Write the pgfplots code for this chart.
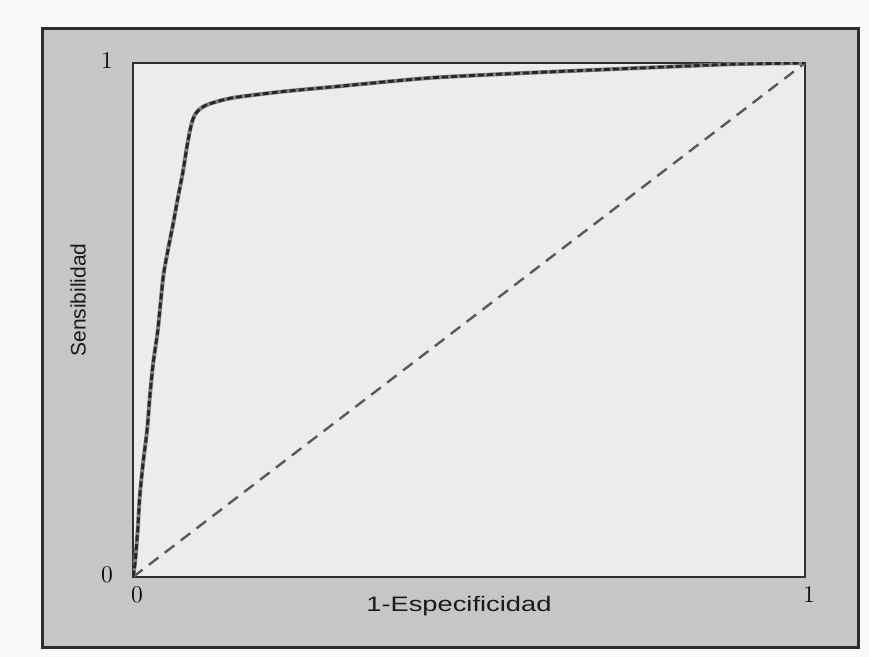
\documentclass[border=0pt]{standalone}
\usepackage{fontspec}
\setmainfont{Liberation Sans}
\newfontfamily\labfont[FakeStretch=1.3]{Liberation Sans}
\newfontfamily\tickfont{Liberation Serif}
\usepackage{pgfplots}
\pgfplotsset{compat=1.18}
\definecolor{outerbg}{HTML}{FAFAFA}
\definecolor{framebg}{HTML}{C6C6C6}
\definecolor{plotbg}{HTML}{ECECEC}
\definecolor{edge}{HTML}{2E2E2E}
\pgfplotstableread{
x y
0 0
0.003 0.027
0.007 0.091
0.010 0.156
0.015 0.222
0.021 0.286
0.025 0.350
0.030 0.416
0.037 0.481
0.045 0.584
0.052 0.636
0.060 0.689
0.067 0.739
0.074 0.786
0.080 0.835
0.085 0.870
0.089 0.890
0.093 0.901
0.099 0.910
0.109 0.918
0.125 0.925
0.152 0.933
0.220 0.944
0.293 0.953
0.442 0.971
0.591 0.981
0.714 0.988
0.839 0.995
0.900 0.998
1 1
}\roc
\begin{document}
\begin{tikzpicture}
\fill[outerbg] (-66.5pt,-40pt) rectangle (368pt,288.5pt);
\fill[framebg] (-45pt,-35.5pt) rectangle (362.5pt,274pt);
\draw[edge, line width=1.5pt] (-45pt,-35.5pt) rectangle (362.5pt,274pt);
\begin{axis}[
  scale only axis, width=336pt, height=257pt,
  xmin=0, xmax=1, ymin=0, ymax=1,
  axis background/.style={fill=plotbg},
  axis line style={edge, line width=1.2pt},
  xtick={0,1}, ytick={0,1},
  major tick length=0pt,
  ticklabel style={font=\tickfont\fontsize{12.5}{14}\selectfont, text=black},
  xticklabel style={anchor=center, yshift=-9pt, xshift=2pt},
  yticklabel style={anchor=center, xshift=-13pt, yshift=1pt},
  xlabel={1-Especificidad},
  ylabel={Sensibilidad},
  xlabel style={font=\labfont\fontsize{10.5}{12}\selectfont, at={(axis description cs:0.485,-0.0564)}, anchor=center, text=black!90},
  ylabel style={font=\fontsize{10.5}{12}\selectfont, at={(axis description cs:-0.0818,0.539)}, anchor=center, text=black!90},
]
\addplot[black!65, line width=1.2pt, dash pattern=on 6pt off 4pt] coordinates {(0,0) (1,1)};
\addplot[black!50, line width=2pt, smooth, tension=0.4] table[x=x,y=y] {\roc};
\addplot[black!85, line width=1.4pt, dash pattern=on 3pt off 1.5pt, smooth, tension=0.4] table[x=x,y=y] {\roc};
\end{axis}
\end{tikzpicture}
\end{document}
